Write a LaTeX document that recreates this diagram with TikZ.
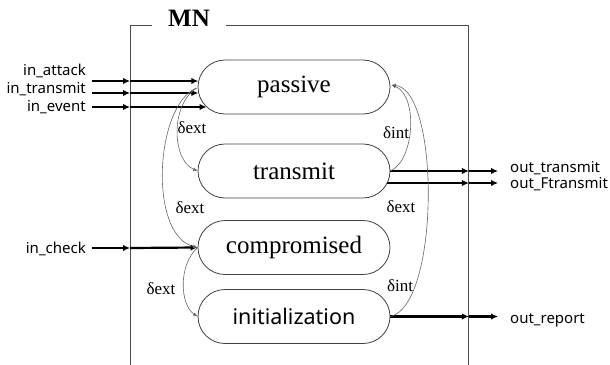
\documentclass[tikz,border=0pt]{standalone}
\usepackage{fontspec}
\setmainfont{Liberation Serif}
\newfontfamily\labelfont{Noto Sans}
\usetikzlibrary{shapes.misc,arrows.meta,calc}
\begin{document}
\begin{tikzpicture}[x=1pt,y=-1pt,
  state/.style={draw=black!75, line width=0.8pt, rounded rectangle,
    minimum width=192pt, minimum height=54pt, inner sep=0pt,
    font=\fontsize{25}{25}\selectfont},
  port/.style={font=\labelfont\fontsize{15}{15}\selectfont, inner sep=0pt},
  flow/.style={line width=2.2pt, -{Latex[length=7pt,width=6.5pt]}},
  trans/.style={draw=black!60, line width=0.6pt, -{Latex[length=4.5pt,width=3.5pt]}},
  tlabel/.style={font=\fontsize{17}{17}\selectfont, inner sep=0pt}]
\useasboundingbox (0,0) rectangle (610,364);
\clip (0,0) rectangle (610,364);

% coupled model frame and its title
\node[draw=black!70, line width=0.9pt, anchor=north west, minimum width=338pt,
      minimum height=360pt, inner sep=0pt] (frame) at (130,25) {};
\node[fill=white, minimum width=74pt, minimum height=36pt, inner sep=0pt,
      font=\bfseries\fontsize{25}{25}\selectfont] (title) at (189,18) {MN};

% states
\node[state] (passive) at (294,87) {passive};
\node[state] (transmit) at (294,171) {transmit};
\node[state] (compromised) at (294,247.5) {compromised};
\node[state, font=\labelfont\fontsize{21.5}{21.5}\selectfont] (init) at (294,316.5) {initialization};

% input ports
\node[port, anchor=base east] (lA) at (86,75) {in\_attack};
\node[port, anchor=base east] (lT) at (86,93) {in\_transmit};
\node[port, anchor=base east] (lE) at (86,111) {in\_event};
\node[port, anchor=base east] (lC) at (86,253) {in\_check};
\coordinate (inA) at (92,81);
\coordinate (inT) at (92,93);
\coordinate (inE) at (92,107);
\coordinate (inC) at (92,248);

\draw[flow] (inA) -- (inA -| frame.west);
\draw[flow] (inA -| frame.west) -- ($(passive.west)+(0.7,-6)$);
\draw[flow] (inT) -- (inT -| frame.west);
\draw[flow] (inT -| frame.west) -- ($(passive.west)+(0.7,6)$);
\draw[flow] (inE) -- (inE -| frame.west);
\draw[flow] (inE -| frame.west) -- ($(passive.west)+(9,20)$);
\draw[flow] (inC) -- (inC -| frame.west);
\draw[flow] (inC -| frame.west) -- (compromised.west);

% output ports
\coordinate (oT) at (498,171);
\coordinate (oF) at (498,183);
\coordinate (oR) at (498,316.5);
\node[port, anchor=base west] (rT) at (510,172) {out\_transmit};
\node[port, anchor=base west] (rF) at (510,188) {out\_Ftransmit};
\node[port, anchor=base west] (rR) at (510,323) {out\_report};

\draw[flow] (transmit.east) -- (oT -| frame.east);
\draw[flow] (oT -| frame.east) -- (oT);
\draw[flow] ($(transmit.east)+(-3,12)$) -- (oF -| frame.east);
\draw[flow] (oF -| frame.east) -- (oF);
\draw[flow] (init.east) -- (oR -| frame.east);
\draw[flow] (oR -| frame.east) -- (oR);

% transitions
\draw[trans] ($(passive.west)+(-1,1)$) .. controls (170,105) and (172,160) .. (transmit.west);
\draw[trans] ($(passive.west)+(-1,1)$) .. controls (155,105) and (148,235) .. (compromised.west);
\draw[trans] (compromised.west) .. controls (178,265) and (180,305) .. (init.west);
\draw[trans] (transmit.east) .. controls (415,160) and (418,95) .. ($(passive.east)+(1,-2)$);
\draw[trans] (init.east) .. controls (440,305) and (440,90) .. ($(passive.east)+(1,-2)$);

\node[tlabel] (d1) at (192,128) {δext};
\node[tlabel] (d2) at (190,208) {δext};
\node[tlabel] (d3) at (161,289) {δext};
\node[tlabel] (d4) at (396,133) {δint};
\node[tlabel] (d5) at (401,207) {δext};
\node[tlabel] (d6) at (400,286) {δint};
\end{tikzpicture}
\end{document}
